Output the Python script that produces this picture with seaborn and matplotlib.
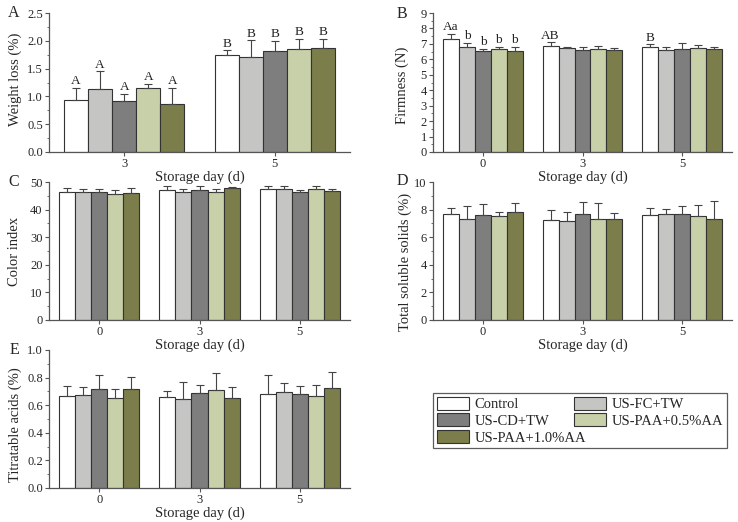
import matplotlib
matplotlib.use("Agg")
import matplotlib.pyplot as plt
from matplotlib.ticker import AutoMinorLocator, MultipleLocator
from matplotlib.container import BarContainer
import seaborn as sns
import pandas as pd

sns.set_theme(style="ticks")
plt.rcParams['font.family'] = ['Liberation Serif', 'DejaVu Serif']
plt.rcParams['mathtext.fontset'] = 'stix'

treatments = ["Control", "US-FC+TW", "US-CD+TW", "US-PAA+0.5%AA", "US-PAA+1.0%AA"]
colors = ["#ffffff", "#c5c6c4", "#7d7e7d", "#c8d0aa", "#7b7d4b"]

days_A = ["3", "5"]
days = ["0", "3", "5"]

# Weight loss (%) : rows = treatments, cols = days
wl_mean = [[0.93, 1.74], [1.13, 1.70], [0.91, 1.82], [1.16, 1.85], [0.86, 1.87]]
wl_err = [[0.22, 0.09], [0.32, 0.31], [0.13, 0.18], [0.07, 0.18], [0.29, 0.17]]
wl_letters = [["A", "B"], ["A", "B"], ["A", "B"], ["A", "B"], ["A", "B"]]

# Firmness (N)
fi_mean = [[7.31, 6.88, 6.77], [6.83, 6.72, 6.62], [6.57, 6.62, 6.66], [6.70, 6.66, 6.72], [6.55, 6.62, 6.70]]
fi_err = [[0.33, 0.21, 0.21], [0.22, 0.11, 0.21], [0.13, 0.21, 0.39], [0.13, 0.22, 0.18], [0.28, 0.10, 0.13]]
fi_letters = [["Aa", "AB", "B"], ["b", "", ""], ["b", "", ""], ["b", "", ""], ["b", "", ""]]

# Color index
ci_mean = [[46.4, 47.2, 47.3], [46.3, 46.4, 47.3], [46.3, 47.2, 46.3], [45.5, 46.5, 47.5], [45.9, 47.95, 46.7]]
ci_err = [[1.4, 1.2, 1.3], [1.2, 1.1, 1.3], [1.2, 1.2, 0.7], [1.6, 0.8, 0.9], [1.9, 0.35, 0.8]]

# Total soluble solids (%)
ts_mean = [[7.71, 7.28, 7.59], [7.35, 7.20, 7.66], [7.59, 7.69, 7.71], [7.52, 7.35, 7.54], [7.83, 7.33, 7.35]]
ts_err = [[0.41, 0.70, 0.55], [0.94, 0.63, 0.41], [0.82, 0.89, 0.56], [0.31, 1.11, 0.82], [0.68, 0.40, 1.28]]

# Titratable acids (%)
ta_mean = [[0.670, 0.663, 0.684], [0.675, 0.643, 0.694], [0.720, 0.687, 0.682], [0.653, 0.708, 0.670], [0.716, 0.651, 0.728]]
ta_err = [[0.067, 0.043, 0.133], [0.058, 0.128, 0.067], [0.100, 0.062, 0.060], [0.065, 0.123, 0.079], [0.091, 0.084, 0.111]]

W, H = 738, 522
fig = plt.figure(figsize=(W / 100, H / 100), dpi=100)


def rect(x0, x1, ytop, ybot):
    return [x0 / W, (H - ybot) / H, (x1 - x0) / W, (ybot - ytop) / H]


def panel(pos, dlist, mean, err, ylim, ystep, ylabel, letter, lx, ly,
          letters=None, fmt="{:.1f}", legend=False):
    ax = fig.add_axes(pos)
    ax.patch.set_alpha(0)
    rows = []
    for ti, t in enumerate(treatments):
        for di, d in enumerate(dlist):
            rows.append({"day": d, "treatment": t, "value": mean[ti][di]})
    df = pd.DataFrame(rows)
    sns.barplot(data=df, x="day", y="value", hue="treatment", order=dlist,
                hue_order=treatments, palette=colors, errorbar=None,
                width=0.8, gap=0, edgecolor="#333333", linewidth=0.8,
                legend=legend, ax=ax, saturation=1)
    bar_conts = [c for c in ax.containers if isinstance(c, BarContainer)]
    for ti, cont in enumerate(bar_conts):
        for di, bar in enumerate(cont):
            x = bar.get_x() + bar.get_width() / 2
            h = bar.get_height()
            e = err[ti][di]
            ax.errorbar(x, h, yerr=[[0], [e]], fmt="none", ecolor="#444444",
                        elinewidth=0.8, capsize=3.0, capthick=0.8)
            if letters is not None and letters[ti][di]:
                ax.text(x, h + e + (ylim[1] - ylim[0]) * 0.005, letters[ti][di],
                        ha="center", va="bottom", fontsize=9.5, color="#222222")
    ax.set_ylim(*ylim)
    ax.set_xlim(-0.5, len(dlist) - 0.5)
    ax.yaxis.set_major_locator(MultipleLocator(ystep))
    ax.yaxis.set_minor_locator(AutoMinorLocator(2))
    ax.yaxis.set_major_formatter(matplotlib.ticker.FuncFormatter(lambda v, p: fmt.format(v)))
    for s in ["top", "right"]:
        ax.spines[s].set_visible(False)
    for s in ["left", "bottom"]:
        ax.spines[s].set_color("#555555")
        ax.spines[s].set_linewidth(0.9)
    ax.tick_params(axis="both", which="major", direction="out", length=3,
                   width=0.8, color="#555555", labelsize=9, pad=1.5)
    ax.tick_params(axis="y", which="minor", direction="out", length=1.8,
                   width=0.6, color="#555555")
    ax.set_xlabel("Storage day (d)", fontsize=10.5, labelpad=0.5)
    ax.set_ylabel(ylabel, fontsize=10.5)
    fig.text(lx / W, 1 - ly / H, letter, fontsize=11.5, ha="center", va="center")
    return ax


def place_ylabel(ax, x_px, label_y):
    pos = ax.get_position()
    xa = (x_px / W - pos.x0) / pos.width
    ax.yaxis.set_label_coords(xa, label_y)
    ax.yaxis.label.set_verticalalignment("center")


axA = panel(rect(49, 350, 13, 152), days_A, wl_mean, wl_err, (0, 2.5), 0.5,
            "Weight loss (%)", "A", 14, 13, letters=wl_letters, legend=True)
axB = panel(rect(433, 732, 13, 152), days, fi_mean, fi_err, (0, 9), 1,
            "Firmness (N)", "B", 402, 14, letters=fi_letters, fmt="{:.0f}")
axC = panel(rect(49, 350, 182, 320), days, ci_mean, ci_err, (0, 50), 10,
            "Color index", "C", 14, 182, fmt="{:.0f}")
axD = panel(rect(433, 732, 182, 320), days, ts_mean, ts_err, (0, 10), 2,
            "Total soluble solids (%)", "D", 402, 181, fmt="{:.0f}")
axE = panel(rect(49, 350, 350, 488), days, ta_mean, ta_err, (0, 1.0), 0.2,
            "Titratable acids (%)", "E", 14, 350)

place_ylabel(axA, 15, 0.52)
place_ylabel(axB, 402, 0.48)
place_ylabel(axC, 15, 0.50)
place_ylabel(axD, 405, 0.42)
place_ylabel(axE, 15, 0.46)

handles, labels = axA.get_legend_handles_labels()
if axA.legend_ is not None:
    axA.legend_.remove()
order = [0, 2, 4, 1, 3]
leg = fig.legend([handles[i] for i in order], [labels[i] for i in order],
                 ncol=2, loc="upper left",
                 bbox_to_anchor=(433 / W, 1 - 393 / H, (727 - 433) / W, 0.0),
                 mode="expand", fontsize=10.5, frameon=True, fancybox=False,
                 edgecolor="#333333", handlelength=2.2, handleheight=1.0,
                 handletextpad=0.4, labelspacing=0.15, borderpad=0.25,
                 columnspacing=1.0, borderaxespad=0)
leg.get_frame().set_linewidth(0.9)

fig.savefig("out.png", dpi=100)
